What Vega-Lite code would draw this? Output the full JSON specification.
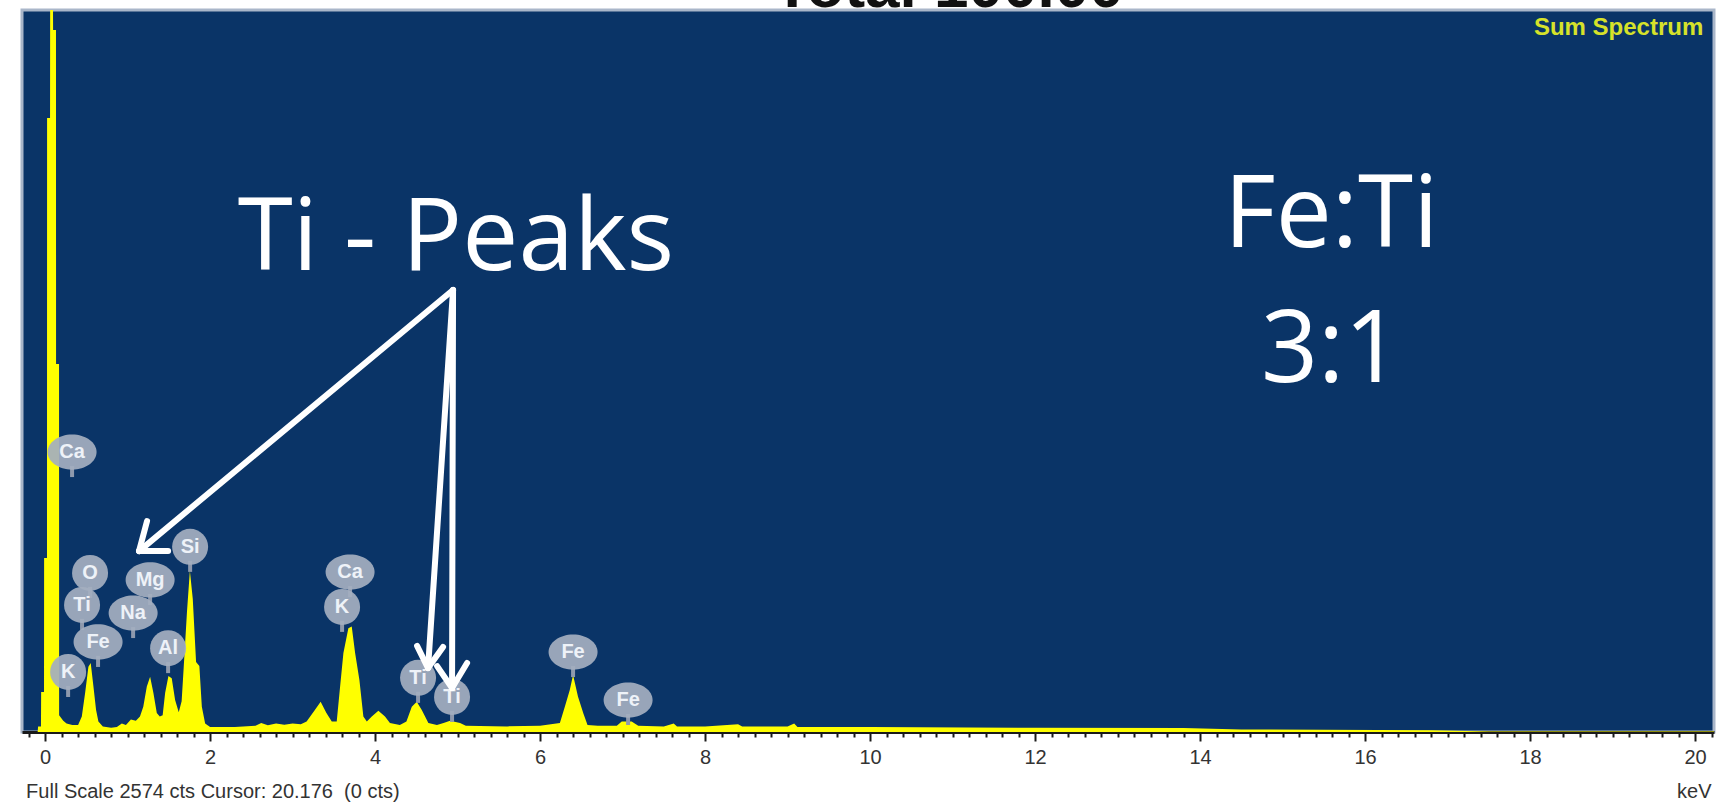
{
  "$schema": "https://vega.github.io/schema/vega-lite/v6.json",
  "width": 1692,
  "height": 722,
  "autosize": {"type": "none"},
  "padding": {"left": 22, "top": 10, "right": 15, "bottom": 71},
  "background": "#ffffff",
  "config": {"view": {"fill": "#0a3467", "stroke": "#a9b6c9", "strokeWidth": 3}},
  "datasets": {
    "spectrum": [
      {"keV": -0.28, "cts": 0}, {"keV": -0.09, "cts": 0}, {"keV": -0.085, "cts": 20}, {"keV": -0.05, "cts": 20},
      {"keV": -0.048, "cts": 143}, {"keV": -0.013, "cts": 143}, {"keV": -0.012, "cts": 620}, {"keV": 0.023, "cts": 620},
      {"keV": 0.024, "cts": 2189}, {"keV": 0.06, "cts": 2189}, {"keV": 0.061, "cts": 2574}, {"keV": 0.096, "cts": 2574},
      {"keV": 0.097, "cts": 2503}, {"keV": 0.132, "cts": 2503}, {"keV": 0.133, "cts": 1312}, {"keV": 0.169, "cts": 1312},
      {"keV": 0.17, "cts": 60}, {"keV": 0.22, "cts": 40}, {"keV": 0.26, "cts": 30}, {"keV": 0.33, "cts": 25},
      {"keV": 0.40, "cts": 25}, {"keV": 0.445, "cts": 55}, {"keV": 0.485, "cts": 139}, {"keV": 0.525, "cts": 233},
      {"keV": 0.553, "cts": 246}, {"keV": 0.586, "cts": 162}, {"keV": 0.618, "cts": 78}, {"keV": 0.646, "cts": 37},
      {"keV": 0.70, "cts": 20}, {"keV": 0.80, "cts": 15}, {"keV": 0.87, "cts": 18}, {"keV": 0.93, "cts": 30},
      {"keV": 0.98, "cts": 25}, {"keV": 1.04, "cts": 45}, {"keV": 1.10, "cts": 40}, {"keV": 1.15, "cts": 55},
      {"keV": 1.19, "cts": 90}, {"keV": 1.233, "cts": 162}, {"keV": 1.273, "cts": 197}, {"keV": 1.313, "cts": 139},
      {"keV": 1.354, "cts": 68}, {"keV": 1.39, "cts": 55}, {"keV": 1.425, "cts": 60}, {"keV": 1.455, "cts": 139},
      {"keV": 1.495, "cts": 200}, {"keV": 1.535, "cts": 192}, {"keV": 1.576, "cts": 114}, {"keV": 1.62, "cts": 70},
      {"keV": 1.655, "cts": 110}, {"keV": 1.68, "cts": 230}, {"keV": 1.72, "cts": 430}, {"keV": 1.755, "cts": 575},
      {"keV": 1.79, "cts": 475}, {"keV": 1.83, "cts": 250}, {"keV": 1.87, "cts": 235}, {"keV": 1.90, "cts": 90},
      {"keV": 1.94, "cts": 30}, {"keV": 2.0, "cts": 18}, {"keV": 2.3, "cts": 18}, {"keV": 2.55, "cts": 22},
      {"keV": 2.62, "cts": 32}, {"keV": 2.7, "cts": 24}, {"keV": 2.8, "cts": 30}, {"keV": 2.9, "cts": 26},
      {"keV": 3.0, "cts": 30}, {"keV": 3.1, "cts": 28}, {"keV": 3.17, "cts": 37}, {"keV": 3.27, "cts": 78},
      {"keV": 3.34, "cts": 108}, {"keV": 3.41, "cts": 68}, {"keV": 3.475, "cts": 37}, {"keV": 3.535, "cts": 37},
      {"keV": 3.576, "cts": 162}, {"keV": 3.616, "cts": 282}, {"keV": 3.676, "cts": 370}, {"keV": 3.717, "cts": 376},
      {"keV": 3.758, "cts": 282}, {"keV": 3.81, "cts": 185}, {"keV": 3.858, "cts": 55}, {"keV": 3.90, "cts": 37},
      {"keV": 3.96, "cts": 55}, {"keV": 4.04, "cts": 76}, {"keV": 4.12, "cts": 55}, {"keV": 4.18, "cts": 32},
      {"keV": 4.3, "cts": 25}, {"keV": 4.38, "cts": 37}, {"keV": 4.445, "cts": 90}, {"keV": 4.505, "cts": 108},
      {"keV": 4.566, "cts": 78}, {"keV": 4.646, "cts": 32}, {"keV": 4.75, "cts": 25}, {"keV": 4.83, "cts": 32},
      {"keV": 4.91, "cts": 40}, {"keV": 5.03, "cts": 32}, {"keV": 5.1, "cts": 22}, {"keV": 5.6, "cts": 20},
      {"keV": 6.0, "cts": 22}, {"keV": 6.24, "cts": 32}, {"keV": 6.30, "cts": 90}, {"keV": 6.36, "cts": 150},
      {"keV": 6.40, "cts": 203}, {"keV": 6.46, "cts": 126}, {"keV": 6.525, "cts": 66}, {"keV": 6.575, "cts": 25},
      {"keV": 6.7, "cts": 22}, {"keV": 6.93, "cts": 22}, {"keV": 6.99, "cts": 37}, {"keV": 7.11, "cts": 37},
      {"keV": 7.19, "cts": 22}, {"keV": 7.5, "cts": 20}, {"keV": 7.62, "cts": 30}, {"keV": 7.66, "cts": 20},
      {"keV": 8.0, "cts": 20}, {"keV": 8.4, "cts": 28}, {"keV": 8.45, "cts": 20}, {"keV": 9.0, "cts": 20},
      {"keV": 9.08, "cts": 30}, {"keV": 9.12, "cts": 18}, {"keV": 10.0, "cts": 18}, {"keV": 12.0, "cts": 15},
      {"keV": 13.8, "cts": 14}, {"keV": 14.5, "cts": 9}, {"keV": 15.5, "cts": 8}, {"keV": 16.8, "cts": 6},
      {"keV": 17.5, "cts": 2}, {"keV": 20.23, "cts": 2}
    ],
    "labels": [
      {"el": "Ca", "keV": 0.327, "cts": 998},
      {"el": "O", "keV": 0.545, "cts": 567},
      {"el": "Ti", "keV": 0.448, "cts": 453},
      {"el": "Fe", "keV": 0.642, "cts": 321},
      {"el": "K", "keV": 0.279, "cts": 214},
      {"el": "Mg", "keV": 1.273, "cts": 542},
      {"el": "Na", "keV": 1.067, "cts": 424},
      {"el": "Al", "keV": 1.491, "cts": 299},
      {"el": "Si", "keV": 1.758, "cts": 660},
      {"el": "Ca", "keV": 3.697, "cts": 570},
      {"el": "K", "keV": 3.6, "cts": 446},
      {"el": "Ti", "keV": 4.521, "cts": 193},
      {"el": "Ti", "keV": 4.933, "cts": 125},
      {"el": "Fe", "keV": 6.4, "cts": 285},
      {"el": "Fe", "keV": 7.067, "cts": 114}
    ],
    "arrows": [
      {"keV": 4.945, "cts": 1576, "keV2": 1.139, "cts2": 645},
      {"keV": 1.139, "cts": 645, "keV2": 1.236, "cts2": 752},
      {"keV": 1.139, "cts": 645, "keV2": 1.491, "cts2": 645},
      {"keV": 4.945, "cts": 1576, "keV2": 4.642, "cts2": 228},
      {"keV": 4.642, "cts": 228, "keV2": 4.509, "cts2": 307},
      {"keV": 4.642, "cts": 228, "keV2": 4.824, "cts2": 303},
      {"keV": 4.945, "cts": 1576, "keV2": 4.933, "cts2": 157},
      {"keV": 4.933, "cts": 157, "keV2": 4.752, "cts2": 235},
      {"keV": 4.933, "cts": 157, "keV2": 5.115, "cts2": 246}
    ],
    "notes": [
      {"kind": "big", "text": "Ti - Peaks", "keV": 4.98, "cts": 1647},
      {"kind": "big", "text": "Fe:Ti", "keV": 15.59, "cts": 1729},
      {"kind": "big", "text": "3:1", "keV": 15.59, "cts": 1248},
      {"kind": "sum", "text": "Sum Spectrum", "keV": 20.1, "cts": 2485},
      {"kind": "title", "text": "Total 100.00", "keV": 10.95, "cts": 2585},
      {"kind": "footL", "text": "Full Scale 2574 cts Cursor: 20.176 \u00a0(0 cts)", "keV": -0.23, "cts": -235},
      {"kind": "footR", "text": "keV", "keV": 20.2, "cts": -235}
    ]
  },
  "encoding": {
    "x": {
      "field": "keV",
      "type": "quantitative",
      "scale": {"domain": [-0.28, 20.23], "nice": false, "zero": false},
      "axis": {
        "title": null,
        "tickCount": 100,
        "grid": false,
        "labelExpr": "abs(datum.value/2 - round(datum.value/2)) < 0.01 ? format(datum.value, 'd') : ''",
        "labelOverlap": false,
        "labelFlush": false,
        "labelFont": "Liberation Sans",
        "labelFontSize": 20,
        "labelColor": "#333333",
        "labelPadding": 6,
        "domainColor": "#1a1a1a",
        "domainWidth": 3,
        "tickColor": "#1a1a1a",
        "tickWidth": 2,
        "tickSize": {"condition": {"test": "abs(datum.value/2 - round(datum.value/2)) < 0.01", "value": 9}, "value": 5}
      }
    },
    "y": {
      "field": "cts",
      "type": "quantitative",
      "scale": {"domain": [0, 2574], "nice": false, "zero": false},
      "axis": null
    }
  },
  "layer": [
    {
      "data": {"name": "spectrum"},
      "mark": {"type": "area", "color": "#ffff00", "interpolate": "linear", "clip": true}
    },
    {
      "data": {"name": "labels"},
      "mark": {"type": "rule", "color": "#8e99ad", "strokeWidth": 4, "yOffset": 14, "y2Offset": 25},
      "encoding": {"y2": {"field": "cts"}}
    },
    {
      "data": {"name": "labels"},
      "transform": [{"filter": "indexof(['Ca','Mg','Na','Fe'], datum.el) < 0"}],
      "mark": {"type": "point", "shape": "circle", "filled": true, "size": 1296, "color": "#a4aec0", "opacity": 0.93}
    },
    {
      "data": {"name": "labels"},
      "transform": [{"filter": "indexof(['Ca','Mg','Na','Fe'], datum.el) >= 0"}],
      "mark": {"type": "point", "shape": "M-1,0A1,0.72,0,1,1,1,0A1,0.72,0,1,1,-1,0Z", "filled": true, "size": 2400, "color": "#a4aec0", "opacity": 0.93}
    },
    {
      "data": {"name": "labels"},
      "mark": {"type": "text", "font": "Liberation Sans", "fontWeight": "bold", "fontSize": 20, "color": "#eef2f8", "baseline": "middle", "align": "center"},
      "encoding": {"text": {"field": "el"}}
    },
    {
      "data": {"name": "arrows"},
      "mark": {"type": "rule", "color": "#ffffff", "strokeWidth": 6, "strokeCap": "round"},
      "encoding": {"x2": {"field": "keV2"}, "y2": {"field": "cts2"}}
    },
    {
      "data": {"name": "notes"},
      "transform": [{"filter": "datum.kind === 'big'"}],
      "mark": {"type": "text", "font": "Open Sans", "fontSize": 100, "color": "#ffffff", "align": "center", "baseline": "alphabetic"},
      "encoding": {"text": {"field": "text"}}
    },
    {
      "data": {"name": "notes"},
      "transform": [{"filter": "datum.kind === 'sum'"}],
      "mark": {"type": "text", "font": "Liberation Sans", "fontWeight": "bold", "fontSize": 24, "color": "#d6e22a", "align": "right", "baseline": "alphabetic"},
      "encoding": {"text": {"field": "text"}}
    },
    {
      "data": {"name": "notes"},
      "transform": [{"filter": "datum.kind === 'title'"}],
      "mark": {"type": "text", "font": "Liberation Sans", "fontWeight": "bold", "fontSize": 62, "color": "#111111", "align": "center", "baseline": "alphabetic"},
      "encoding": {"text": {"field": "text"}}
    },
    {
      "data": {"name": "notes"},
      "transform": [{"filter": "datum.kind === 'footL'"}],
      "mark": {"type": "text", "font": "Liberation Sans", "fontSize": 20, "color": "#333333", "align": "left", "baseline": "alphabetic"},
      "encoding": {"text": {"field": "text"}}
    },
    {
      "data": {"name": "notes"},
      "transform": [{"filter": "datum.kind === 'footR'"}],
      "mark": {"type": "text", "font": "Liberation Sans", "fontSize": 20, "color": "#333333", "align": "right", "baseline": "alphabetic"},
      "encoding": {"text": {"field": "text"}}
    }
  ]
}
